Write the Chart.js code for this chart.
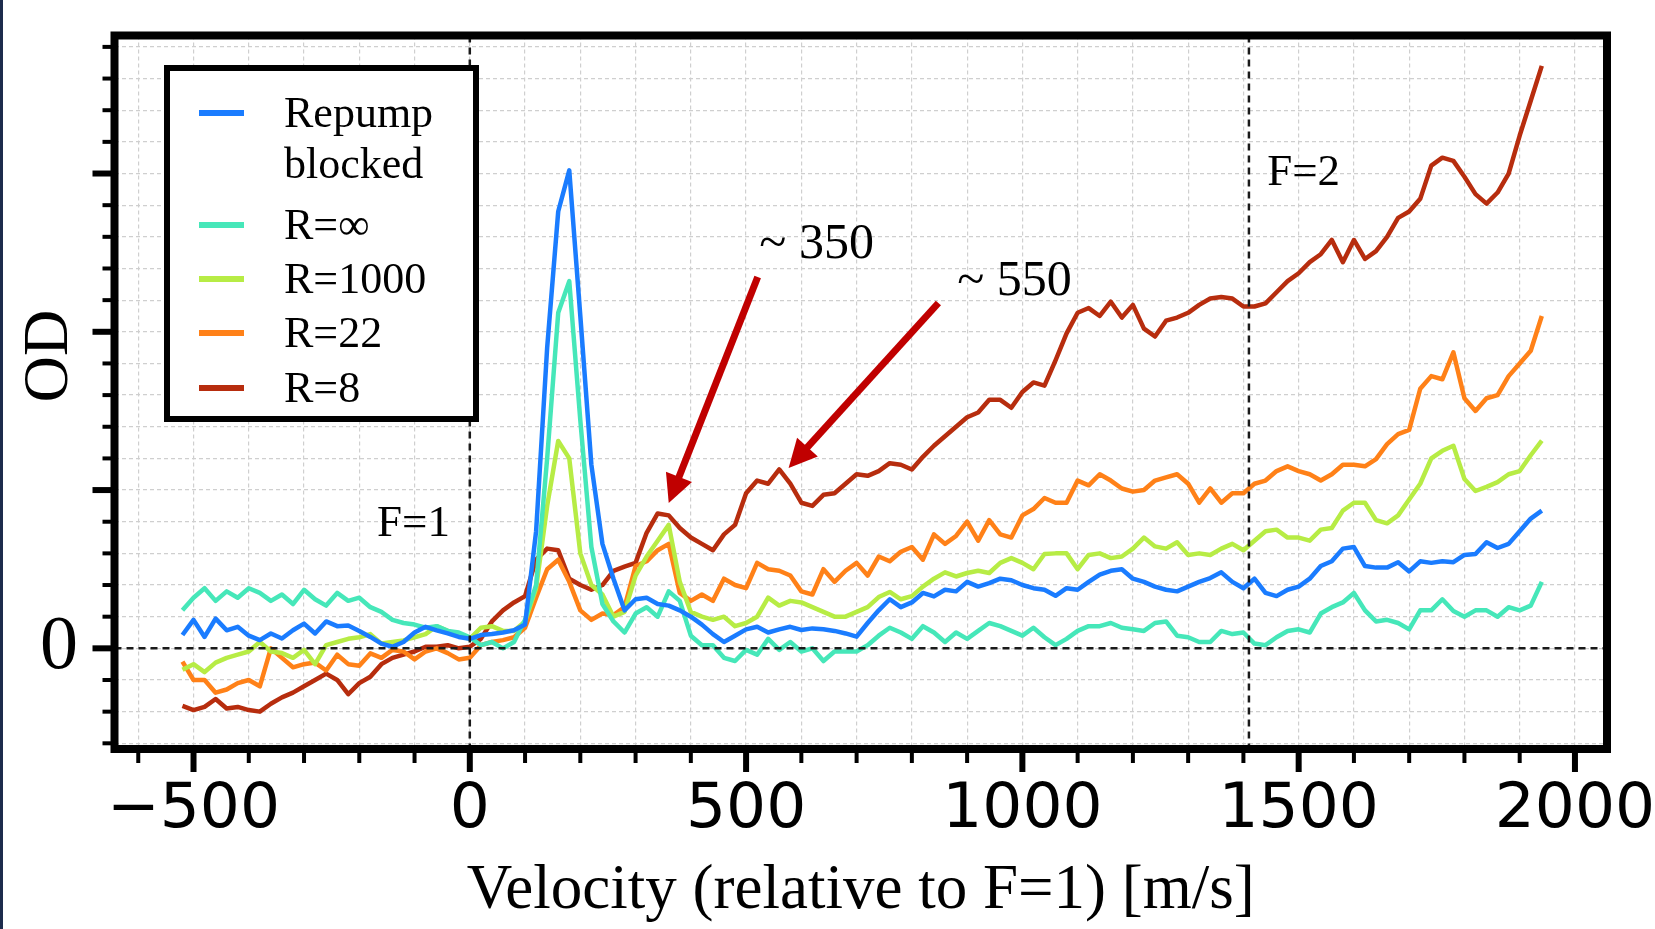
<!DOCTYPE html>
<html>
<head>
<meta charset="utf-8">
<script src="https://cdn.jsdelivr.net/npm/chart.js@4.4.0/dist/chart.umd.min.js"></script>
<style>
    html, body { margin: 0; padding: 0; background: #fff; }
    #contenedor { position: relative; width: 1655px; height: 929px; }
    #borde { position: absolute; left: 0; top: 0; width: 3px; height: 929px; background: #1d2b4c; }
</style>
</head>
<body>
<div id="contenedor">
    <canvas id="chart_od" width="1655" height="929"></canvas>
    <div id="borde"></div>
</div>
<script>
// velocidad relativa a F=1 [m/s]
const velocidades = [-520, -500, -480, -460, -440, -420, -400, -380, -360, -340, -320, -300, -280, -260, -240, -220, -200, -180, -160, -140,
    -120, -100, -80, -60, -40, -20, 0, 20, 40, 60, 80, 100, 120, 140, 160, 180, 200, 220, 240, 260,
    280, 300, 320, 340, 360, 380, 400, 420, 440, 460, 480, 500, 520, 540, 560, 580, 600, 620, 640, 660,
    680, 700, 720, 740, 760, 780, 800, 820, 840, 860, 880, 900, 920, 940, 960, 980, 1000, 1020, 1040, 1060,
    1080, 1100, 1120, 1140, 1160, 1180, 1200, 1220, 1240, 1260, 1280, 1300, 1320, 1340, 1360, 1380, 1400, 1420, 1440, 1460,
    1480, 1500, 1520, 1540, 1560, 1580, 1600, 1620, 1640, 1660, 1680, 1700, 1720, 1740, 1760, 1780, 1800, 1820, 1840, 1860,
    1880, 1900, 1920, 1940]

// OD de cada serie (unidades de la rejilla menor)
const repump_blocked = [0.42, 0.9, 0.36, 0.94, 0.57, 0.68, 0.4, 0.26, 0.47, 0.31,
    0.57, 0.78, 0.47, 0.85, 0.7, 0.72, 0.55, 0.36, 0.15, 0.05,
    0.2, 0.5, 0.68, 0.57, 0.47, 0.36, 0.3, 0.42, 0.45, 0.5,
    0.57, 0.75, 3.7, 9.5, 13.8, 15.1, 10.5, 5.8, 3.3, 2.2,
    1.2, 1.55, 1.6, 1.4, 1.35, 1.2, 1.0, 0.75, 0.45, 0.2,
    0.4, 0.6, 0.68, 0.5, 0.6, 0.68, 0.58, 0.63, 0.6, 0.55,
    0.47, 0.37, 0.8, 1.2, 1.55, 1.3, 1.45, 1.75, 1.64, 1.85,
    1.8, 2.1, 1.95, 2.06, 2.2, 2.15, 2.0, 1.9, 1.85, 1.66,
    1.9, 1.85, 2.1, 2.33, 2.45, 2.5, 2.2, 2.1, 1.95, 1.85,
    1.8, 1.95, 2.1, 2.22, 2.4, 2.1, 1.9, 2.2, 1.75, 1.65,
    1.85, 1.95, 2.2, 2.6, 2.75, 3.15, 3.2, 2.6, 2.55, 2.55,
    2.72, 2.43, 2.75, 2.7, 2.75, 2.72, 2.95, 2.98, 3.35, 3.17,
    3.3, 3.7, 4.1, 4.35]
const r_inf = [1.2, 1.6, 1.9, 1.5, 1.8, 1.6, 1.9, 1.75, 1.5, 1.7,
    1.4, 1.85, 1.55, 1.35, 1.75, 1.5, 1.6, 1.3, 1.15, 0.9,
    0.8, 0.75, 0.65, 0.7, 0.55, 0.5, 0.35, 0.1, 0.2, 0.0,
    0.2, 0.9, 2.0, 6.0, 10.6, 11.6, 7.2, 3.2, 1.4, 0.85,
    0.5, 1.1, 1.3, 1.0, 1.8, 1.5, 0.4, 0.1, 0.1, -0.3,
    -0.4, -0.05, -0.2, 0.3, -0.05, 0.2, -0.1, 0.0, -0.4, -0.1,
    -0.1, -0.1, 0.1, 0.4, 0.65, 0.5, 0.3, 0.7, 0.5, 0.2,
    0.5, 0.3, 0.55, 0.8, 0.7, 0.55, 0.4, 0.65, 0.35, 0.1,
    0.3, 0.55, 0.7, 0.7, 0.8, 0.65, 0.6, 0.55, 0.8, 0.85,
    0.4, 0.35, 0.2, 0.2, 0.55, 0.45, 0.5, 0.15, 0.1, 0.35,
    0.55, 0.6, 0.5, 1.1, 1.3, 1.45, 1.75, 1.2, 0.85, 0.9,
    0.8, 0.6, 1.2, 1.2, 1.55, 1.18, 1.0, 1.2, 1.2, 1.0,
    1.3, 1.2, 1.35, 2.1]
const r_1000 = [-0.68, -0.5, -0.75, -0.45, -0.3, -0.2, -0.1, 0.2, -0.1, -0.15,
    -0.3, -0.05, -0.5, 0.1, 0.2, 0.3, 0.35, 0.45, 0.15, 0.2,
    0.25, 0.35, 0.45, 0.7, 0.55, 0.4, 0.3, 0.65, 0.7, 0.55,
    0.55, 0.85, 1.9, 4.5, 6.55, 6.0, 3.0, 2.0, 1.7, 1.0,
    1.15, 2.3, 2.9, 3.4, 3.9, 2.1, 1.15, 1.0, 0.9, 1.0,
    0.7, 0.8, 1.0, 1.6, 1.35, 1.5, 1.45, 1.3, 1.15, 1.0,
    1.0, 1.15, 1.3, 1.62, 1.78, 1.55, 1.65, 1.95, 2.2, 2.4,
    2.27, 2.38, 2.45, 2.38, 2.7, 2.85, 2.7, 2.5, 2.98, 3.0,
    3.0, 2.5, 2.95, 3.0, 2.85, 2.9, 3.15, 3.5, 3.22, 3.15,
    3.35, 2.95, 3.0, 2.95, 3.15, 3.3, 3.1, 3.4, 3.7, 3.75,
    3.5, 3.5, 3.4, 3.75, 3.8, 4.35, 4.6, 4.6, 4.05, 3.95,
    4.2, 4.7, 5.2, 6.0, 6.24, 6.4, 5.35, 4.97, 5.1, 5.25,
    5.5, 5.6, 6.1, 6.56]
const r_22 = [-0.42, -1.0, -1.0, -1.4, -1.3, -1.1, -1.0, -1.2, 0.0, -0.3,
    -0.6, -0.5, -0.45, -0.7, -0.2, -0.5, -0.55, -0.16, -0.3, -0.05,
    -0.1, -0.35, -0.1, 0.0, -0.15, -0.35, -0.3, 0.1, 0.2, 0.26,
    0.35, 0.65, 1.6, 2.5, 2.8, 2.1, 1.2, 0.9, 1.1, 1.05,
    1.3, 2.6, 2.75, 3.1, 3.3, 1.75, 1.5, 1.7, 1.5, 2.2,
    2.0, 1.9, 2.7, 2.5, 2.45, 2.3, 1.8, 1.7, 2.5, 2.1,
    2.45, 2.7, 2.3, 2.9, 2.75, 3.05, 3.2, 2.8, 3.6, 3.3,
    3.55, 4.0, 3.4, 4.05, 3.6, 3.5, 4.2, 4.4, 4.75, 4.6,
    4.6, 5.3, 5.15, 5.5, 5.3, 5.05, 4.95, 5.0, 5.3, 5.4,
    5.5, 5.2, 4.6, 5.05, 4.6, 4.9, 4.9, 5.2, 5.3, 5.6,
    5.75, 5.6, 5.5, 5.3, 5.5, 5.8, 5.8, 5.75, 5.98, 6.45,
    6.77, 6.9, 8.2, 8.6, 8.5, 9.35, 7.9, 7.5, 7.9, 8.0,
    8.6, 9.0, 9.4, 10.5]
const r_8 = [-1.82, -1.95, -1.85, -1.6, -1.9, -1.85, -1.95, -2.0, -1.75, -1.55,
    -1.4, -1.2, -1.0, -0.8, -1.0, -1.45, -1.1, -0.9, -0.5, -0.3,
    -0.2, -0.1, 0.05, 0.05, 0.1, 0.0, 0.05, 0.3, 0.85, 1.2,
    1.45, 1.65, 2.8, 3.15, 3.1, 2.2, 2.0, 1.85, 2.0, 2.45,
    2.58, 2.7, 3.65, 4.26, 4.2, 3.8, 3.5, 3.3, 3.1, 3.6,
    3.9, 4.9, 5.3, 5.2, 5.65, 5.2, 4.6, 4.5, 4.85, 4.9,
    5.2, 5.5, 5.45, 5.6, 5.85, 5.8, 5.65, 6.05, 6.4, 6.7,
    7.0, 7.3, 7.45, 7.85, 7.85, 7.6, 8.1, 8.4, 8.3, 9.1,
    9.95, 10.6, 10.75, 10.5, 10.95, 10.45, 10.85, 10.1, 9.85, 10.35,
    10.45, 10.6, 10.85, 11.05, 11.1, 11.05, 10.8, 10.8, 10.9, 11.25,
    11.6, 11.85, 12.2, 12.45, 12.9, 12.2, 12.9, 12.3, 12.55, 13.0,
    13.6, 13.8, 14.2, 15.25, 15.5, 15.4, 14.9, 14.35, 14.05, 14.4,
    15.0, 16.2, 17.3, 18.4]

const nombres_series = ['Repump\nblocked', 'R=\u221e', 'R=1000', 'R=22', 'R=8']
const colores_series = ['#1a7cff', '#46e7b9', '#b7ec45', '#ff8118', '#b72d0e']
const valores_series = [repump_blocked, r_inf, r_1000, r_22, r_8]

// ticks de los ejes (solo -500..2000 y 0 llevan texto)
const ticks_x = [-600, -500, -400, -300, -200, -100, 0, 100, 200, 300, 400, 500, 600, 700, 800, 900, 1000,
    1100, 1200, 1300, 1400, 1500, 1600, 1700, 1800, 1900, 2000]
const ticks_y = [-3, -2, -1, 0, 1, 2, 3, 4, 5, 6, 7, 8, 9, 10, 11, 12, 13, 14, 15, 16, 17, 18, 19]

// limites de los ejes
const x_min = -643
const x_max = 2058
const y_min = -3.18
const y_max = 19.36
const lineas_f = [0, 1410]

// anotaciones (en unidades de datos)
const textos_f = [
    { texto: 'F=1', x: -36, y: 3.55, align: 'right' },
    { texto: 'F=2', x: 1443, y: 14.64, align: 'left' },
]
const flechas = [
    { texto: '~ 350', texto_en: [524, 12.33], desde: [521, 11.73], hasta: [360, 4.59] },
    { texto: '~ 550', texto_en: [882, 11.16], desde: [848, 10.91], hasta: [577, 5.7] },
]

function formato_tick(v) {
    if (v % 500 !== 0) return ''
    return v < 0 ? '\u2212' + Math.abs(v) : String(v)
}

// dibuja lineas discontinuas, flechas, leyenda, marco y ticks
const decoracion = {
    id: 'decoracion',
    afterDraw(chart) {
        const ctx = chart.ctx
        const area = chart.chartArea
        const sx = chart.scales.x
        const sy = chart.scales.y
        ctx.save()

        ctx.strokeStyle = '#1a1a1a'
        ctx.lineWidth = 2.5
        ctx.setLineDash([7, 5])
        ctx.beginPath()
        for (const v of lineas_f) {
            const px = sx.getPixelForValue(v)
            ctx.moveTo(px, area.top)
            ctx.lineTo(px, area.bottom)
        }
        const py0 = sy.getPixelForValue(0)
        ctx.moveTo(area.left, py0)
        ctx.lineTo(area.right, py0)
        ctx.stroke()
        ctx.setLineDash([])

        ctx.fillStyle = '#000'
        ctx.font = '45px "Liberation Serif"'
        ctx.textBaseline = 'alphabetic'
        for (const t of textos_f) {
            ctx.textAlign = t.align
            ctx.fillText(t.texto, sx.getPixelForValue(t.x), sy.getPixelForValue(t.y))
        }

        for (const f of flechas) {
            const x0 = sx.getPixelForValue(f.desde[0])
            const y0 = sy.getPixelForValue(f.desde[1])
            const x1 = sx.getPixelForValue(f.hasta[0])
            const y1 = sy.getPixelForValue(f.hasta[1])
            const ang = Math.atan2(y1 - y0, x1 - x0)
            const largo = 28
            const ancho = 14
            const bx = x1 - Math.cos(ang) * largo
            const by = y1 - Math.sin(ang) * largo
            ctx.strokeStyle = '#c00000'
            ctx.fillStyle = '#c00000'
            ctx.lineWidth = 7
            ctx.beginPath()
            ctx.moveTo(x0, y0)
            ctx.lineTo(bx + Math.cos(ang) * 3, by + Math.sin(ang) * 3)
            ctx.stroke()
            ctx.beginPath()
            ctx.moveTo(x1, y1)
            ctx.lineTo(bx - Math.sin(ang) * ancho, by + Math.cos(ang) * ancho)
            ctx.lineTo(bx + Math.sin(ang) * ancho, by - Math.cos(ang) * ancho)
            ctx.closePath()
            ctx.fill()
            ctx.fillStyle = '#000'
            ctx.font = '50px "Liberation Serif"'
            ctx.textAlign = 'left'
            ctx.fillText(f.texto, sx.getPixelForValue(f.texto_en[0]), sy.getPixelForValue(f.texto_en[1]))
        }

        // leyenda
        ctx.fillStyle = '#fff'
        ctx.fillRect(167, 68, 309, 351)
        ctx.strokeStyle = '#000'
        ctx.lineWidth = 6
        ctx.strokeRect(167, 68, 309, 351)
        const centros = [113, 225, 279, 333, 388]
        ctx.font = '44px "Liberation Serif"'
        ctx.textAlign = 'left'
        chart.data.datasets.forEach((ds, i) => {
            ctx.strokeStyle = ds.borderColor
            ctx.lineWidth = 6
            ctx.beginPath()
            ctx.moveTo(199, centros[i])
            ctx.lineTo(244, centros[i])
            ctx.stroke()
            ctx.fillStyle = '#000'
            ds.label.split('\n').forEach((linea, j) => {
                ctx.fillText(linea, 284, centros[i] + 14 + j * 51)
            })
        })

        // marco y ticks
        ctx.strokeStyle = '#000'
        ctx.lineWidth = 8
        ctx.strokeRect(area.left, area.top, area.right - area.left, area.bottom - area.top)
        for (const t of sx.ticks) {
            const mayor = t.value % 500 === 0
            const px = sx.getPixelForValue(t.value)
            ctx.lineWidth = mayor ? 6 : 4
            ctx.beginPath()
            ctx.moveTo(px, area.bottom)
            ctx.lineTo(px, area.bottom + (mayor ? 23 : 14))
            ctx.stroke()
        }
        for (const t of sy.ticks) {
            const mayor = t.value % 5 === 0
            const py = sy.getPixelForValue(t.value)
            ctx.lineWidth = mayor ? 6 : 4
            ctx.beginPath()
            ctx.moveTo(area.left, py)
            ctx.lineTo(area.left - (mayor ? 22 : 12), py)
            ctx.stroke()
        }

        // titulo del eje y
        ctx.translate(50, 356)
        ctx.rotate(-Math.PI / 2)
        ctx.fillStyle = '#000'
        ctx.font = '64px "Liberation Serif"'
        ctx.textAlign = 'center'
        ctx.textBaseline = 'middle'
        ctx.fillText('OD', 0, 0)
        ctx.restore()
    }
}

let datasets = valores_series.map((valores, i) => ({
    label: nombres_series[i],
    data: velocidades.map((v, j) => ({ x: v, y: valores[j] })),
    borderColor: colores_series[i],
    borderWidth: 4.5,
    borderJoinStyle: 'round',
    pointRadius: 0,
    tension: 0,
    fill: false,
}))

const od_chart = new Chart(document.querySelector('#chart_od'), {
    type: 'line',
    data: { datasets: datasets },
    options: {
        responsive: false,
        animation: false,
        devicePixelRatio: 1,
        layout: { padding: { left: 0, right: 48, top: 35.5, bottom: 0 } },
        scales: {
            x: {
                type: 'linear',
                min: x_min,
                max: x_max,
                afterBuildTicks: (scale) => { scale.ticks = ticks_x.map(v => ({ value: v })) },
                afterFit: (scale) => {
                    scale.height = 180
                    scale.paddingLeft = 0
                    scale.paddingRight = 0
                },
                border: { display: false, dash: [4, 3] },
                grid: { color: '#cfcfcf', lineWidth: 1.2, drawTicks: false },
                ticks: {
                    autoSkip: false,
                    maxRotation: 0,
                    padding: 24,
                    color: '#000',
                    font: { family: '"DejaVu Sans", sans-serif', size: 63 },
                    callback: (v) => formato_tick(v),
                },
                title: {
                    display: true,
                    text: 'Velocity (relative to F=1) [m/s]',
                    color: '#000',
                    padding: 0,
                    font: { family: '"Liberation Serif", serif', size: 63 },
                },
            },
            y: {
                type: 'linear',
                min: y_min,
                max: y_max,
                afterBuildTicks: (scale) => { scale.ticks = ticks_y.map(v => ({ value: v })) },
                afterFit: (scale) => {
                    scale.width = 114.5
                    scale.paddingTop = 0
                    scale.paddingBottom = 0
                },
                border: { display: false, dash: [4, 3] },
                grid: { color: '#cfcfcf', lineWidth: 1.2, drawTicks: false },
                ticks: {
                    autoSkip: false,
                    padding: 36.5,
                    color: '#000',
                    font: (c) => ({ family: '"Liberation Serif", serif', size: c.tick && c.tick.value === 0 ? 76 : 1 }),
                    callback: (v) => v === 0 ? '0' : '',
                },
            },
        },
        plugins: {
            legend: { display: false },
            tooltip: { enabled: false },
        },
    },
    plugins: [decoracion],
})
</script>
</body>
</html>
